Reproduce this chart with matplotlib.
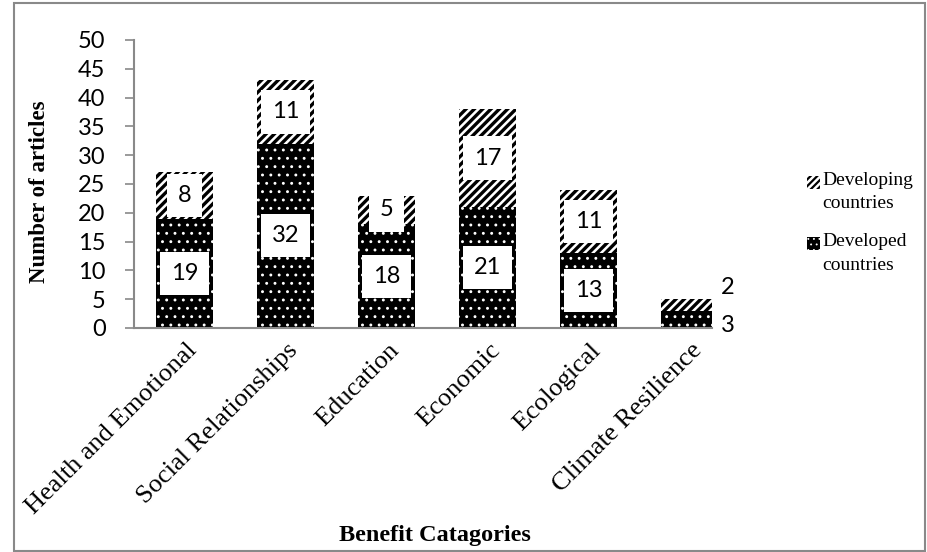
import matplotlib.pyplot as plt
from matplotlib.patches import Rectangle

categories = ['Health and Emotional', 'Social Relationships', 'Education',
              'Economic', 'Ecological', 'Climate Resilience']
developed = [19, 32, 18, 21, 13, 3]
developing = [8, 11, 5, 17, 11, 2]
yticks = list(range(0, 55, 5))

W, H = 928, 552
GRAY = '#898989'
SERIF = 'Liberation Serif'
SANS = 'Lato'

fig = plt.figure(figsize=(W / 100, H / 100), dpi=100)
ax = fig.add_axes([134 / W, 1 - 328 / H, (712 - 134) / W, (328 - 40) / H])

x = list(range(len(categories)))
bw = 0.565

# dotted black for developed, heavy diagonal stripes for developing
with plt.rc_context({'hatch.linewidth': 0.9}):
    ax.bar(x, developed, bw, color='black', edgecolor='white',
           linewidth=0, hatch='..')
with plt.rc_context({'hatch.linewidth': 2.4}):
    ax.bar(x, developing, bw, bottom=developed, color='white',
           edgecolor='black', linewidth=0, hatch='////')

box = dict(boxstyle='square,pad=0.47', fc='white', ec='none')
for i in x:
    if i < len(x) - 1:
        ax.text(i, developed[i] / 2, str(developed[i]), ha='center',
                va='center', fontsize=17, family=SANS, bbox=box, zorder=5)
        ax.text(i, developed[i] + developing[i] / 2, str(developing[i]),
                ha='center', va='center', fontsize=17, family=SANS,
                bbox=box, zorder=5)
    else:
        # too small to hold the labels, put them beside the bar
        ax.annotate(str(developed[i]), xy=(i + bw / 2, developed[i] / 2),
                    xytext=(2, -4.5), textcoords='offset points',
                    ha='left', va='center', fontsize=17, family=SANS,
                    annotation_clip=False)
        ax.annotate(str(developing[i]),
                    xy=(i + bw / 2, developed[i] + developing[i]),
                    xytext=(2, 8.5), textcoords='offset points',
                    ha='left', va='center', fontsize=17, family=SANS,
                    annotation_clip=False)

ax.set_xlim(-0.5, 5.223)
ax.set_ylim(0, 50)
ax.set_yticks(yticks)
ax.set_yticklabels([str(t) for t in yticks], family=SANS, fontsize=17)
ax.tick_params(axis='y', length=6.5, width=1.2, color=GRAY, pad=14)
ax.tick_params(axis='x', length=0)
ax.set_xticks(x)
ax.set_xticklabels([])
for s in ['top', 'right']:
    ax.spines[s].set_visible(False)
for s in ['left', 'bottom']:
    ax.spines[s].set_color(GRAY)
    ax.spines[s].set_linewidth(1.5)

for i, name in enumerate(categories):
    ax.annotate(name, xy=(i, 0), xytext=(1, -8), textcoords='offset points',
                rotation=45, rotation_mode='anchor', ha='right', va='top',
                fontsize=19, family=SERIF, annotation_clip=False)

fig.text(40 / W, 1 - 192 / H, 'Number of articles', rotation=90,
         ha='center', va='center', fontsize=16.5, fontweight='bold',
         family=SERIF)
fig.text(435 / W, 1 - 535 / H, 'Benefit Catagories', ha='center',
         va='center', fontsize=17.5, fontweight='bold', family=SERIF)

# legend
entries = [('Developing\ncountries', 'white', 'black', '/////', 1.6, 182),
           ('Developed\ncountries', 'black', 'white', '...', 0.6, 243)]
for label, fc, hc, hatch, hlw, yc in entries:
    with plt.rc_context({'hatch.linewidth': hlw}):
        fig.patches.append(Rectangle((807 / W, 1 - (yc + 7) / H), 13 / W, 13 / H,
                                     transform=fig.transFigure, facecolor=fc,
                                     edgecolor=hc, linewidth=0, hatch=hatch))
    fig.text(822 / W, 1 - (yc - 10) / H, label, ha='left', va='top',
             fontsize=14, family=SERIF, linespacing=1.5)

# outer chart border
fig.patches.append(Rectangle((14 / W, 1 / H), (925 - 14) / W, (550 - 2) / H,
                             transform=fig.transFigure, fill=False,
                             edgecolor=GRAY, linewidth=1.5))

fig.savefig('out.png', dpi=100)
